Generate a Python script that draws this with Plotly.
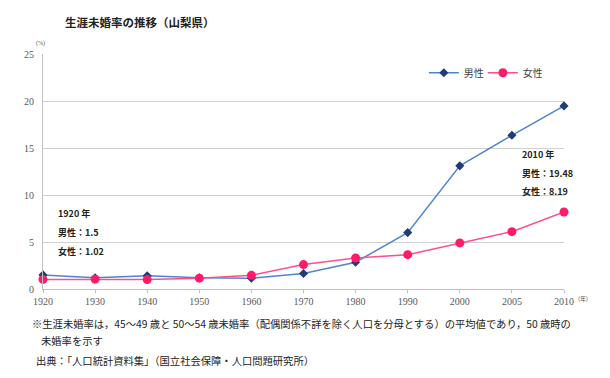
import plotly.graph_objects as go

years = ["1920", "1930", "1940", "1950", "1960", "1970", "1980", "1990", "2000", "2005", "2010"]
male = [1.5, 1.2, 1.4, 1.2, 1.15, 1.65, 2.85, 6.0, 13.1, 16.35, 19.48]
female = [1.02, 1.05, 1.0, 1.15, 1.45, 2.6, 3.3, 3.65, 4.9, 6.1, 8.19]
y_ticks = [0, 5, 10, 15, 20, 25]

JP = "Noto Sans CJK JP"
NUM = "Liberation Serif"

fig = go.Figure()
fig.add_trace(go.Scatter(
    x=years, y=male, name="男性", mode="lines+markers",
    line=dict(color="#4f85cf", width=1.5),
    marker=dict(symbol="diamond", size=7, color="#1f3d73"),
    cliponaxis=False,
))
fig.add_trace(go.Scatter(
    x=years, y=female, name="女性", mode="lines+markers",
    line=dict(color="#ff4f8b", width=1.5),
    marker=dict(symbol="circle", size=9, color="#ff1a6a"),
    cliponaxis=False,
))

pl, pr, pt, pb = 43, 564, 54, 289

fig.update_layout(
    width=610, height=378,
    margin=dict(l=pl, r=610 - pr, t=pt, b=378 - pb, autoexpand=False),
    paper_bgcolor="white", plot_bgcolor="white",
    showlegend=True,
    legend=dict(orientation="h", x=0.731, y=0.92, xanchor="left", yanchor="middle",
                font=dict(family=JP, size=10, color="#404040"),
                bgcolor="rgba(0,0,0,0)", entrywidth=14, entrywidthmode="pixels",
                itemwidth=30),
    font=dict(family=JP),
)
fig.update_xaxes(
    type="category", range=[0, 10], showgrid=False, automargin=False,
    showline=True, linecolor="#bfbfbf", linewidth=1,
    ticks="outside", ticklen=3, tickcolor="#bfbfbf",
    tickfont=dict(family=NUM, size=10, color="#595959"),
)
fig.update_yaxes(
    range=[0, 25], tickvals=y_ticks, showgrid=True, gridcolor="#d0d0d0", gridwidth=1,
    showline=True, linecolor="#bfbfbf", linewidth=1, zeroline=False, automargin=False,
    tickfont=dict(family=NUM, size=10, color="#595959"), ticklabelstandoff=6,
)

def px(x): return (x - pl) / (pr - pl)
def py(y): return (pb - y) / (pb - pt)

def add(text, x, y, size=9, color="#404040", family=JP, xanchor="left", bold=False):
    if bold:
        text = "<b>" + text + "</b>"
    fig.add_annotation(text=text, x=px(x), y=py(y), xref="paper", yref="paper",
                       showarrow=False, font=dict(family=family, size=size, color=color),
                       xanchor=xanchor, yanchor="middle")

add("生涯未婚率の推移（山梨県）", 63, 22, size=11.5, color="#222222", bold=True)
add("(%)", 34, 44, size=6, color="#595959", family=NUM)
add("(年)", 576, 298, size=6, color="#595959")

add("1920 年", 56, 213, size=9, color="#222222", bold=True)
add("男性：1.5", 56, 232, size=9, color="#222222", bold=True)
add("女性：1.02", 56, 251, size=9, color="#222222", bold=True)

add("2010 年", 520, 154, size=9, color="#222222", bold=True)
add("男性：19.48", 520, 173, size=9, color="#222222", bold=True)
add("女性：8.19", 520, 191, size=9, color="#222222", bold=True)

add("※生涯未婚率は，45～49 歳と 50～54 歳未婚率（配偶関係不詳を除く人口を分母とする）の平均値であり，50 歳時の",
    30, 323, size=10.3, color="#222222")
add("未婚率を示す", 39, 341, size=10.3, color="#222222")
add("出典：「人口統計資料集」（国立社会保障・人口問題研究所）", 34, 360, size=10.3, color="#222222")

fig.write_html("out.html", config={"displayModeBar": False},
               post_script="document.body.style.margin='0';document.body.style.overflow='hidden';")
